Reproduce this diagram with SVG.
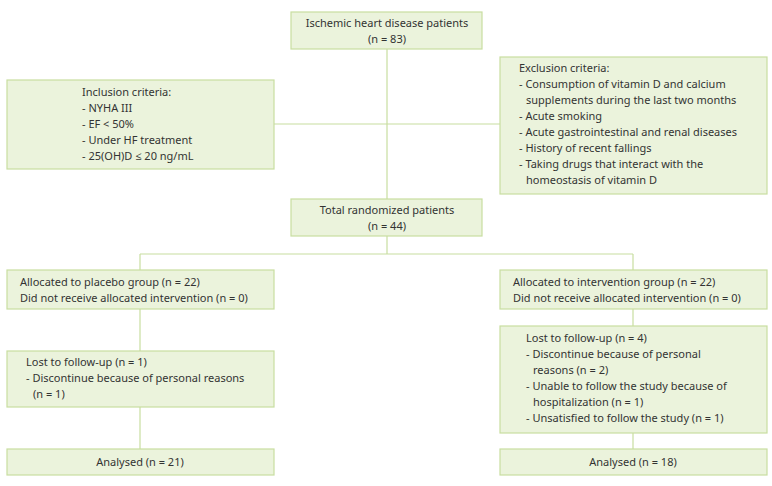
<svg xmlns="http://www.w3.org/2000/svg" width="772" height="486" viewBox="0 0 772 486">
<style>
rect{fill:#ebf3dc;stroke:#c8dea0;stroke-width:1.2}
text{font-family:"Noto Sans","Open Sans",sans-serif;font-size:11px;fill:#333}
.c{text-anchor:middle}
#connectors line{stroke:#c8dea0;stroke-width:1.2}
</style>
<rect width="772" height="486" style="fill:#fff;stroke:none"/>
<g id="connectors">
<line x1="387" y1="49" x2="387" y2="199"/>
<line x1="274" y1="124" x2="500" y2="124"/>
<line x1="387" y1="236" x2="387" y2="254"/>
<line x1="140" y1="254" x2="633" y2="254"/>
<line x1="140" y1="254" x2="140" y2="270"/>
<line x1="633" y1="254" x2="633" y2="270"/>
<line x1="140" y1="309" x2="140" y2="351"/>
<line x1="140" y1="407" x2="140" y2="449"/>
<line x1="633" y1="309" x2="633" y2="326"/>
<line x1="633" y1="433" x2="633" y2="449"/>
</g>
<g id="top"><rect x="291" y="12" width="191" height="37"/>
<text class="c" x="387" y="27">Ischemic heart disease patients</text><text class="c" x="387" y="43">(n = 83)</text></g>
<g id="inclusion"><rect x="7" y="80" width="267" height="89"/>
<text x="82" y="96">Inclusion criteria:</text><text x="82" y="112">- NYHA III</text><text x="82" y="128">- EF &lt; 50%</text><text x="82" y="144">- Under HF treatment</text><text x="82" y="160">- 25(OH)D ≤ 20 ng/mL</text></g>
<g id="exclusion"><rect x="500" y="57" width="267" height="137"/>
<text x="519" y="72">Exclusion criteria:</text>
<text x="519" y="88">- Consumption of vitamin D and calcium</text>
<text x="526" y="104">supplements during the last two months</text>
<text x="519" y="120">- Acute smoking</text>
<text x="519" y="136">- Acute gastrointestinal and renal diseases</text>
<text x="519" y="152">- History of recent fallings</text>
<text x="519" y="168">- Taking drugs that interact with the</text>
<text x="526" y="184">homeostasis of vitamin D</text></g>
<g id="randomized"><rect x="291" y="199" width="191" height="37"/>
<text class="c" x="387" y="214">Total randomized patients</text><text class="c" x="387" y="230">(n = 44)</text></g>
<g id="placebo"><rect x="7" y="270" width="267" height="39"/>
<text x="20" y="286">Allocated to placebo group (n = 22)</text><text x="20" y="302">Did not receive allocated intervention (n = 0)</text></g>
<g id="intervention"><rect x="500" y="270" width="267" height="39"/>
<text x="513" y="286">Allocated to intervention group (n = 22)</text><text x="513" y="302">Did not receive allocated intervention (n = 0)</text></g>
<g id="lostL"><rect x="7" y="351" width="267" height="56"/>
<text x="26" y="366">Lost to follow-up (n = 1)</text><text x="26" y="382">- Discontinue because of personal reasons</text><text x="33" y="398">(n = 1)</text></g>
<g id="lostR"><rect x="500" y="326" width="267" height="107"/>
<text x="526" y="342">Lost to follow-up (n = 4)</text>
<text x="526" y="358">- Discontinue because of personal</text>
<text x="533" y="374">reasons (n = 2)</text>
<text x="526" y="390">- Unable to follow the study because of</text>
<text x="533" y="406">hospitalization (n = 1)</text>
<text x="526" y="422">- Unsatisfied to follow the study (n = 1)</text></g>
<g id="analysedL"><rect x="7" y="449" width="267" height="26"/><text class="c" x="140" y="466">Analysed (n = 21)</text></g>
<g id="analysedR"><rect x="500" y="449" width="267" height="26"/><text class="c" x="633" y="466">Analysed (n = 18)</text></g>
</svg>
